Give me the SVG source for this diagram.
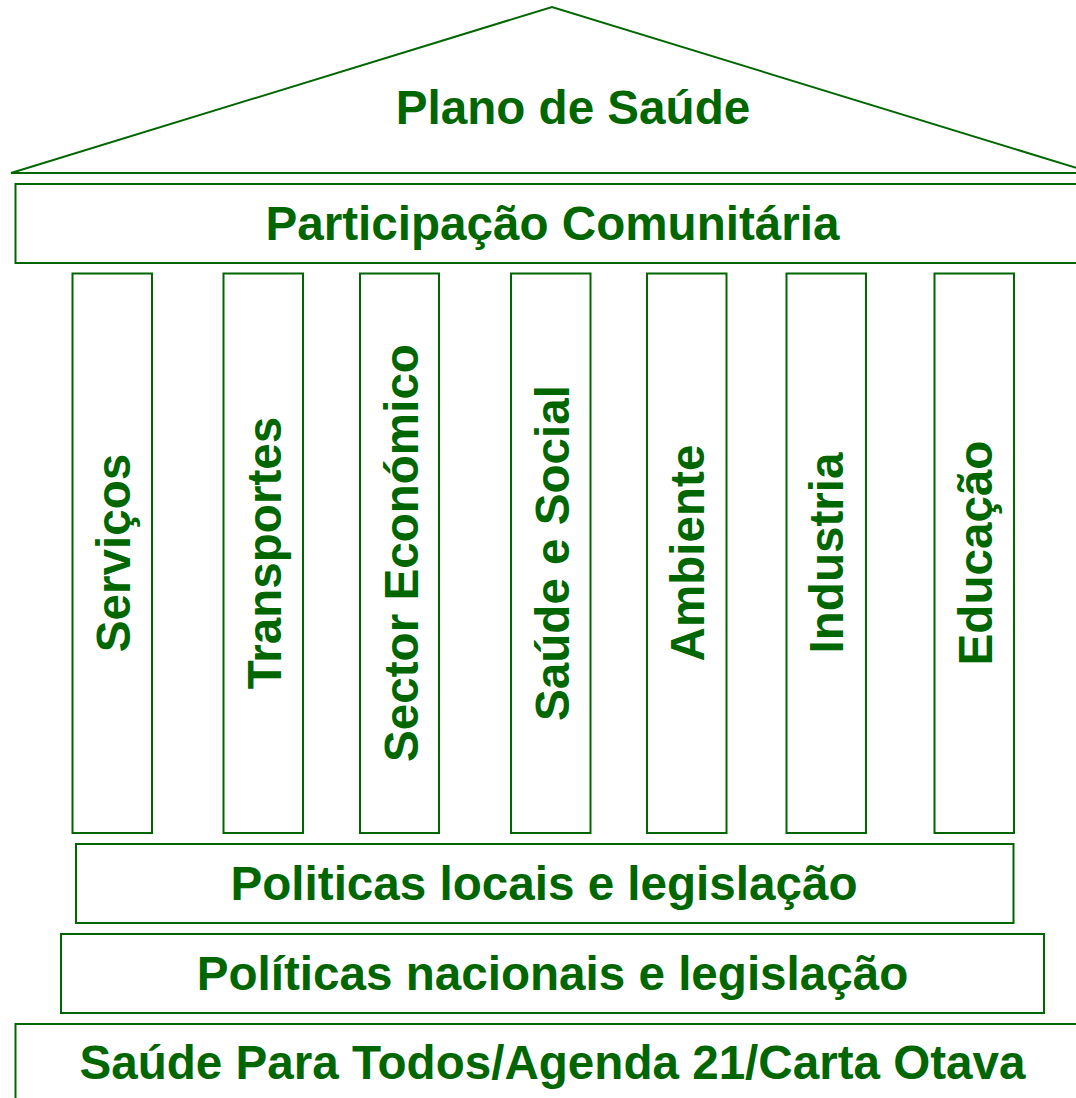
<svg xmlns="http://www.w3.org/2000/svg" width="1076" height="1098" viewBox="0 0 1076 1098">
<style>
.s{fill:#fff;stroke:#006600;stroke-width:2}
.t{font-family:"Liberation Sans",Arial,sans-serif;font-weight:bold;font-size:47.6px;fill:#006600;text-anchor:middle}
</style>
<rect width="1076" height="1098" fill="#fff"/>
<g id="pediment">
<polygon class="s" points="11,173 552,7 1093,173"/>
<text class="t" x="573" y="124">Plano de Saúde</text>
</g>
<g id="participacao">
<rect class="s" x="15.5" y="184" width="1080" height="79"/>
<text class="t" x="552.5" y="240">Participação Comunitária</text>
</g>
<g id="servicos">
<rect class="s" x="72.5" y="273.5" width="79.5" height="559.5"/>
<text class="t" transform="translate(130,553) rotate(-90)">Serviços</text>
</g>
<g id="transportes">
<rect class="s" x="223.5" y="273.5" width="79.5" height="559.5"/>
<text class="t" transform="translate(281,553) rotate(-90)">Transportes</text>
</g>
<g id="sector">
<rect class="s" x="360" y="273.5" width="79" height="559.5"/>
<text class="t" transform="translate(418,553) rotate(-90)">Sector Económico</text>
</g>
<g id="saude-social">
<rect class="s" x="511" y="273.5" width="79.5" height="559.5"/>
<text class="t" transform="translate(568.5,553) rotate(-90)">Saúde e Social</text>
</g>
<g id="ambiente">
<rect class="s" x="647" y="273.5" width="79.5" height="559.5"/>
<text class="t" transform="translate(704,553) rotate(-90)">Ambiente</text>
</g>
<g id="industria">
<rect class="s" x="786.5" y="273.5" width="79.5" height="559.5"/>
<text class="t" transform="translate(843,553) rotate(-90)">Industria</text>
</g>
<g id="educacao">
<rect class="s" x="934.5" y="273.5" width="79.5" height="559.5"/>
<text class="t" transform="translate(991.5,553) rotate(-90)">Educação</text>
</g>
<g id="politicas-locais">
<rect class="s" x="76" y="844" width="937.5" height="79"/>
<text class="t" x="544" y="900">Politicas locais e legislação</text>
</g>
<g id="politicas-nacionais">
<rect class="s" x="61" y="934" width="983" height="79"/>
<text class="t" x="552.5" y="990">Políticas nacionais e legislação</text>
</g>
<g id="base">
<rect class="s" x="15.5" y="1024" width="1080" height="90"/>
<text class="t" x="552.5" y="1079">Saúde Para Todos/Agenda 21/Carta Otava</text>
</g>
<g id="connectors"></g>
</svg>
